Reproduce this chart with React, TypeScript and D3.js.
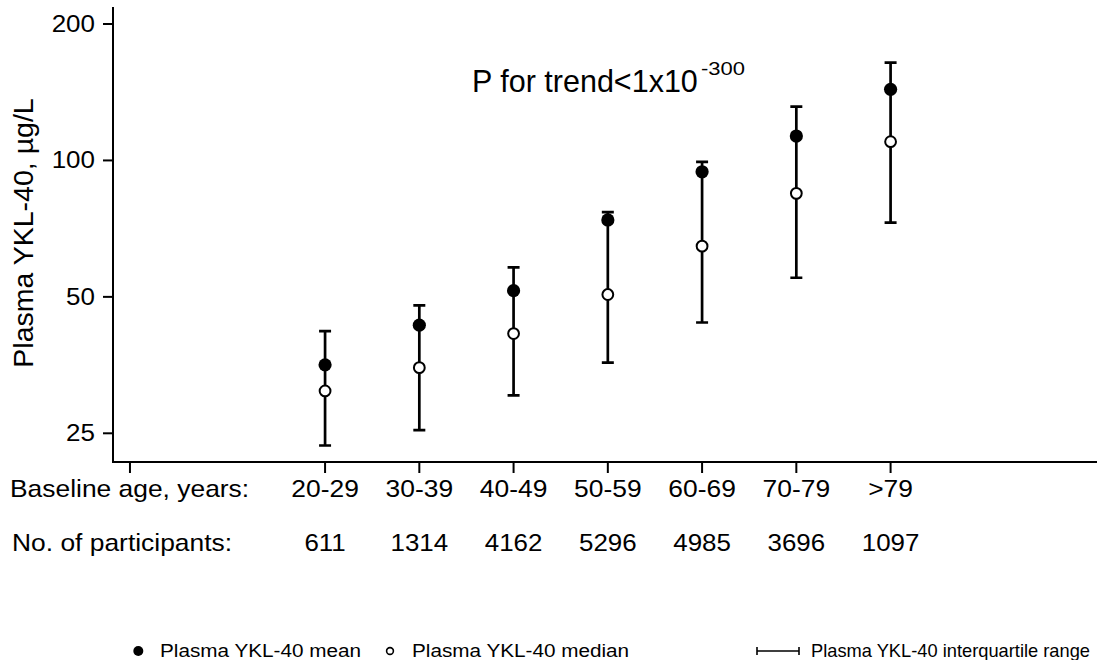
import * as React from 'react';
import * as d3 from 'd3';

const ageGroups = ['20-29', '30-39', '40-49', '50-59', '60-69', '70-79', '>79'];
const participants = [611, 1314, 4162, 5296, 4985, 3696, 1097];
const meanValues = [35.4, 43.3, 51.6, 73.9, 94.4, 113.2, 143.5];
const medianValues = [31.0, 34.9, 41.5, 50.6, 64.7, 84.6, 110.0];
const lowerQuartile = [23.5, 25.4, 30.3, 35.8, 43.9, 55.1, 72.9];
const upperQuartile = [42.0, 47.9, 58.1, 76.9, 99.3, 131.4, 164.3];
const yTickValues = [25, 50, 100, 200];

const chartSize = { width: 1101, height: 660 };
const font = 'Liberation Sans, Arial, Helvetica, sans-serif';

// plot frame in pixels
const frame = {
    left: 113,
    right: 1097,
    top: 7,
    bottom: 462
};

class YklChart extends React.Component<object, object> {
    private node: SVGSVGElement | null = null;
    private xScale: d3.ScaleLinear<number, number>;
    private yScale: d3.ScaleLogarithmic<number, number>;

    render() {
        return <svg
            ref={node => this.node = node}
            width={chartSize.width}
            height={chartSize.height}
            style={{ position: 'absolute', left: 0, top: 0, background: '#fff' }}>
        </svg>
    }

    componentDidMount() {
        this.prepareScales();
        this.renderChart();
    }

    private prepareScales() {
        // group index -> pixel; the axis also carries an unlabelled tick left of the first group
        this.xScale = d3.scaleLinear()
            .domain([-2.25, 8.19])
            .range([frame.left, frame.right]);

        this.yScale = d3.scaleLog()
            .base(2)
            .domain([25, 200])
            .range([433.3, 24]);
    }

    private stretched(g: d3.Selection<any, any, any, any>, x: number, y: number, txt: string,
                      size: number, sx: number, anchor: string) {
        return g.append('text')
            .attr('transform', `translate(${x},${y}) scale(${sx},1)`)
            .attr('font-family', font)
            .attr('font-size', size)
            .attr('text-anchor', anchor)
            .attr('fill', '#000')
            .text(txt);
    }

    private renderChart() {
        const svg = d3.select(this.node);
        svg.selectAll('*').remove();
        const root = svg.append('g');
        const x = this.xScale;
        const y = this.yScale;
        const idx = d3.range(ageGroups.length);

        // axes
        root.append('path')
            .attr('d', `M${frame.left},${frame.top}V${frame.bottom}H${frame.right}`)
            .attr('fill', 'none')
            .attr('stroke', '#000')
            .attr('stroke-width', 2);

        yTickValues.forEach(v => {
            root.append('line')
                .attr('x1', frame.left - 10).attr('x2', frame.left)
                .attr('y1', y(v)).attr('y2', y(v))
                .attr('stroke', '#000').attr('stroke-width', 2);
            this.stretched(root, 95, y(v) + 8, String(v), 23, 1.13, 'end');
        });

        const xTicks = [-2.07].concat(idx);
        xTicks.forEach(i => {
            root.append('line')
                .attr('x1', x(i)).attr('x2', x(i))
                .attr('y1', frame.bottom).attr('y2', frame.bottom + 11)
                .attr('stroke', '#000').attr('stroke-width', 2);
        });

        // row labels under the axis
        this.stretched(root, 10, 497, 'Baseline age, years:', 24, 1.1, 'start');
        this.stretched(root, 12, 551, 'No. of participants:', 24, 1.1, 'start');
        idx.forEach(i => {
            this.stretched(root, x(i), 497, ageGroups[i], 24, 1.1, 'middle');
            this.stretched(root, x(i), 551, String(participants[i]), 24, 1.08, 'middle');
        });

        // y axis title
        root.append('text')
            .attr('transform', `translate(33,233) rotate(-90)`)
            .attr('font-family', font)
            .attr('font-size', 28.5)
            .attr('text-anchor', 'middle')
            .text('Plasma YKL-40, µg/L');

        // trend annotation
        root.append('text')
            .attr('x', 472).attr('y', 91.7)
            .attr('font-family', font)
            .attr('font-size', 30.5)
            .text('P for trend<1x10');
        root.append('text')
            .attr('x', 701).attr('y', 75)
            .attr('font-family', font)
            .attr('font-size', 18)
            .attr('textLength', 44)
            .attr('lengthAdjust', 'spacingAndGlyphs')
            .text('-300');

        // interquartile bars
        const bars = root.append('g')
            .attr('stroke', '#000')
            .attr('stroke-width', 2.7)
            .attr('fill', 'none');
        idx.forEach(i => {
            const cx = x(i);
            bars.append('path')
                .attr('d', `M${cx},${y(upperQuartile[i])}V${y(lowerQuartile[i])}`
                    + `M${cx - 6},${y(upperQuartile[i])}H${cx + 6}`
                    + `M${cx - 6},${y(lowerQuartile[i])}H${cx + 6}`);
        });

        // means (filled) and medians (hollow)
        root.selectAll('circle.mean')
            .data(idx)
            .enter().append('circle')
            .classed('mean', true)
            .attr('cx', i => x(i))
            .attr('cy', i => y(meanValues[i]))
            .attr('r', 6.6)
            .attr('fill', '#000');

        root.selectAll('circle.median')
            .data(idx)
            .enter().append('circle')
            .classed('median', true)
            .attr('cx', i => x(i))
            .attr('cy', i => y(medianValues[i]))
            .attr('r', 5.4)
            .attr('fill', '#fff')
            .attr('stroke', '#000')
            .attr('stroke-width', 2);

        // legend
        const legendY = 651;
        root.append('circle')
            .attr('cx', 138.3).attr('cy', legendY).attr('r', 5)
            .attr('fill', '#000');
        this.stretched(root, 160, legendY + 6, 'Plasma YKL-40 mean', 18.5, 1.12, 'start');

        root.append('circle')
            .attr('cx', 390).attr('cy', legendY).attr('r', 3.4)
            .attr('fill', '#fff').attr('stroke', '#000').attr('stroke-width', 1.6);
        this.stretched(root, 412, legendY + 6, 'Plasma YKL-40 median', 18.5, 1.12, 'start');

        root.append('path')
            .attr('d', `M757,${legendY}H799M757,${legendY - 4}V${legendY + 4}M799,${legendY - 4}V${legendY + 4}`)
            .attr('stroke', '#000').attr('stroke-width', 1.6).attr('fill', 'none');
        root.append('text')
            .attr('x', 811).attr('y', legendY + 6)
            .attr('font-family', font)
            .attr('font-size', 18.5)
            .attr('textLength', 279)
            .attr('lengthAdjust', 'spacingAndGlyphs')
            .text('Plasma YKL-40 interquartile range');
    }
}

export default function App() {
    return <YklChart />;
}
